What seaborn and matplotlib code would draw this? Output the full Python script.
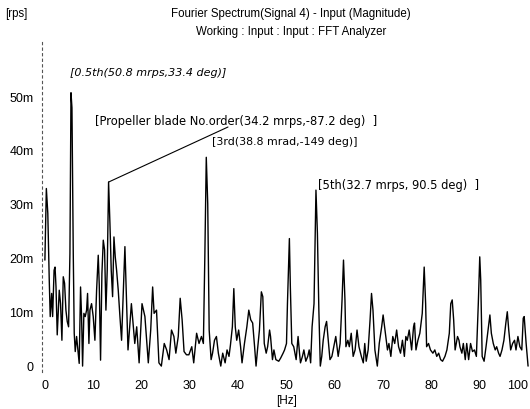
import matplotlib
matplotlib.use("Agg")
import matplotlib.pyplot as plt
import seaborn as sns
import pandas as pd

# Frequency [Hz] and magnitude [mrps]
freqs = [0.0, 0.3, 0.6, 0.9, 1.1, 1.4, 1.6, 1.9, 2.1, 2.3, 2.55, 2.97, 3.24, 3.52, 3.8, 4.07, 4.35, 4.62, 4.9,
         5.18, 5.4, 5.6, 5.87, 6.07, 6.28, 6.56, 6.83, 7.1, 7.38, 7.59, 7.8, 8.07, 8.35, 8.63, 8.83, 9.11, 9.32,
         9.66, 10.0, 10.35, 10.7, 11.04, 11.25, 11.52, 11.8, 12.08, 12.35, 12.63, 12.9, 13.18, 13.46, 13.73,
         14.01, 14.29, 14.56, 14.84, 15.18, 15.53, 15.87, 16.2, 16.56, 17.2, 17.9, 18.6, 19.0, 19.5, 20.1, 20.7,
         21.4, 21.9, 22.3, 22.6, 23.1, 23.6, 24.1, 24.7, 25.2, 25.7, 26.2, 26.7, 27.1, 27.6, 28.0, 28.4, 28.8,
         29.3, 29.8, 30.4, 30.8, 31.4, 31.9, 32.4, 32.8, 33.1, 33.4, 33.7, 34.0, 34.4, 34.7, 35.1, 35.5, 35.9,
         36.4, 36.8, 37.3, 37.7, 38.1, 38.4, 38.8, 39.1, 39.4, 39.7, 40.1, 40.5, 40.8, 41.3, 41.8, 42.2, 42.6,
         43.0, 43.4, 43.7, 44.0, 44.4, 44.8, 45.1, 45.4, 45.8, 46.1, 46.5, 46.7, 47.1, 47.4, 47.8, 48.4, 48.8,
         49.3, 49.6, 50.0, 50.2, 50.6, 50.8, 51.1, 51.5, 52.0, 52.4, 52.7, 52.9, 53.3, 53.6, 54.0, 54.4, 54.7,
         55.0, 55.3, 55.7, 56.1, 56.4, 56.7, 57.0, 57.3, 57.6, 58.0, 58.3, 58.7, 59.0, 59.4, 59.8, 60.2, 60.7,
         61.1, 61.5, 61.8, 62.1, 62.3, 62.7, 63.0, 63.4, 63.8, 64.2, 64.6, 65.0, 65.5, 65.9, 66.2, 66.5, 66.9,
         67.3, 67.6, 67.9, 68.3, 68.8, 69.2, 69.7, 70.0, 70.3, 70.9, 71.2, 71.6, 72.0, 72.4, 72.8, 73.2, 73.6,
         74.0, 74.4, 74.7, 75.0, 75.4, 75.9, 76.3, 76.5, 76.8, 77.2, 77.6, 78.1, 78.5, 78.8, 79.0, 79.4, 79.8,
         80.3, 80.7, 81.1, 81.5, 81.9, 82.3, 82.8, 83.2, 83.7, 84.0, 84.3, 84.6, 84.9, 85.4, 85.7, 85.9, 86.3,
         86.6, 87.0, 87.3, 87.7, 88.1, 88.5, 88.9, 89.3, 89.7, 90.0, 90.2, 90.5, 90.9, 91.3, 91.8, 92.1, 92.4,
         92.8, 93.2, 93.5, 93.9, 94.2, 94.6, 95.0, 95.4, 95.7, 96.0, 96.4, 96.8, 97.2, 97.5, 97.9, 98.3, 98.7,
         99.0, 99.2, 99.6, 100.0]
amps = [19.7, 33.0, 28.4, 16.0, 9.2, 13.5, 9.2, 17.8, 18.4, 14.7, 5.8, 14.1, 11.6, 4.8, 16.6, 15.4, 10.4, 8.3, 7.3,
        20.9, 50.8, 48.0, 20.9, 6.1, 2.7, 5.5, 3.0, 0.5, 14.7, 9.2, 0.0, 9.8, 9.2, 10.4, 13.5, 4.2, 10.4,
        11.6, 9.2, 4.8, 14.1, 20.6, 15.1, 1.1, 17.2, 23.4, 21.6, 10.4, 17.8, 34.2, 26.5, 17.8,
        12.9, 24.0, 20.3, 17.8, 14.1, 9.2, 4.8, 12.9, 22.2, 3.0, 11.6, 4.2, 7.3, 0.6, 11.6, 9.2,
        0.6, 6.7, 14.7, 9.8, 10.4, 0.6, 0.0, 4.2, 3.0, 1.2, 6.7, 5.5, 2.4, 5.5, 12.6, 8.6, 2.7,
        2.1, 2.1, 3.6, 0.6, 6.1, 4.2, 5.5, 4.2, 20.3, 38.8, 30.2, 6.7, 1.2, 2.4, 4.8, 5.5, 2.4,
        0.0, 2.4, 0.6, 3.0, 1.8, 3.9, 7.3, 14.4, 7.3, 4.8, 6.7, 3.6, 0.6, 4.2, 7.3, 10.4, 8.6,
        8.0, 3.6, 0.0, 3.0, 6.7, 13.8, 12.9, 4.2, 2.4, 3.6, 6.7, 5.5, 1.2, 3.0, 1.2, 0.9, 1.5,
        2.4, 3.0, 4.2, 11.6, 23.7, 14.7, 4.2, 3.6, 1.2, 5.5, 2.4, 0.6, 1.8, 3.0, 0.9, 1.8, 3.0,
        0.6, 7.3, 11.6, 32.7, 24.7, 10.4, 0.0, 1.8, 4.8, 7.3, 8.3, 4.2, 1.2, 1.8, 3.6, 5.5, 1.8,
        4.2, 12.3, 19.7, 12.3, 3.6, 4.8, 3.6, 6.1, 1.8, 3.0, 6.7, 3.6, 1.8, 0.6, 4.2, 0.9, 3.0,
        8.6, 13.5, 10.4, 3.0, 0.0, 4.2, 7.3, 9.5, 7.3, 3.0, 4.2, 1.8, 5.5, 4.2, 6.7, 3.6, 2.4,
        4.8, 1.8, 5.5, 4.8, 6.7, 3.0, 7.3, 8.0, 3.0, 4.8, 6.1, 9.8, 18.4, 11.6, 3.6, 4.2, 3.0,
        2.4, 3.0, 1.8, 2.4, 1.2, 0.9, 1.8, 3.0, 6.1, 11.6, 12.3, 8.6, 3.0, 5.5, 4.8, 3.6, 2.4,
        4.2, 1.2, 4.2, 1.2, 4.2, 2.7, 3.0, 1.8, 11.6, 20.3, 16.0, 1.8, 0.9, 3.6, 7.3, 9.5, 6.1,
        4.2, 3.0, 3.6, 2.4, 1.8, 3.0, 4.8, 8.0, 10.1, 6.7, 3.0, 4.2, 4.8, 3.0, 5.5, 3.6, 3.0,
        8.9, 9.2, 4.2, 0.0]

ytick_vals = [0, 10, 20, 30, 40, 50]
ytick_labels = ["0", "10m", "20m", "30m", "40m", "50m"]
xtick_vals = [0, 10, 20, 30, 40, 50, 60, 70, 80, 90, 100]
xtick_labels = ["0", "10", "20", "30", "40", "50", "60", "70", "80", "90", "100"]

ann_labels = ["[0.5th(50.8 mrps,33.4 deg)]",
              "[Propeller blade No.order(34.2 mrps,-87.2 deg)  ]",
              "[3rd(38.8 mrad,-149 deg)]",
              "[5th(32.7 mrps, 90.5 deg)  ]"]

sns.set_style("white")
plt.rcParams['font.family'] = ['Liberation Sans', 'DejaVu Sans']
plt.rcParams['text.color'] = 'black'
plt.rcParams['xtick.color'] = 'black'
plt.rcParams['ytick.color'] = 'black'

W, H = 530, 409
fig = plt.figure(figsize=(W / 100, H / 100), dpi=100)
ax = fig.add_axes([42 / W, 1 - 372 / H, 488 / W, 332 / H])

df = pd.DataFrame({"Hz": freqs, "amp": amps})
sns.lineplot(data=df, x="Hz", y="amp", ax=ax, color="black", linewidth=1.0,
             estimator=None, sort=False)

ax.set_xlim(-0.6, 100.4)
ax.set_ylim(-1.1, 60.6)
ax.set_xlabel("")
ax.set_ylabel("")
ax.set_xticks(xtick_vals)
ax.set_xticklabels(xtick_labels, fontsize=9, color="black")
ax.set_yticks(ytick_vals)
ax.set_yticklabels(ytick_labels, fontsize=9, color="black")
ax.tick_params(axis="both", direction="out", length=3, width=0.8, colors="black", pad=3)
ax.get_xticklabels()[-1].set_horizontalalignment("right")

for s in ["top", "right", "bottom"]:
    ax.spines[s].set_visible(False)
ax.spines["left"].set_linestyle((0, (2, 3)))
ax.spines["left"].set_color("#555555")
ax.spines["left"].set_linewidth(0.8)

fs = 8.3


def pix2data(px, py):
    inv = ax.transData.inverted()
    return inv.transform((px, H - py))


dv = ['DejaVu Sans']
x0, y0 = pix2data(70, 73)
ax.text(x0, y0, ann_labels[0], fontsize=8.0, style="italic", va="center", ha="left",
        family=dv, color="black")
x1, y1 = pix2data(95, 122)
ax.text(x1, y1, ann_labels[1], fontsize=fs, va="center", ha="left", family=dv, color="black")
x2, y2 = pix2data(212, 142)
ax.text(x2, y2, ann_labels[2], fontsize=7.9, va="center", ha="left", family=dv, color="black")
x3, y3 = pix2data(318, 185)
ax.text(x3, y3, ann_labels[3], fontsize=fs, va="center", ha="left", family=dv, color="black")

lx, ly = pix2data(228, 127)
ax.plot([13.18, lx], [34.2, ly], color="black", linewidth=0.8)

fig.text(291 / W, 1 - 14 / H, "Fourier Spectrum(Signal 4) - Input (Magnitude)", fontsize=8.3,
         ha="center", va="center", color="black")
fig.text(291 / W, 1 - 32 / H, "Working : Input : Input : FFT Analyzer", fontsize=8.3,
         ha="center", va="center", color="black")
fig.text(5 / W, 1 - 14 / H, "[rps]", fontsize=8.3, ha="left", va="center", color="black")
fig.text(287 / W, 1 - 401 / H, "[Hz]", fontsize=8.5, ha="center", va="center", color="black")

fig.savefig("out.png", dpi=100)
